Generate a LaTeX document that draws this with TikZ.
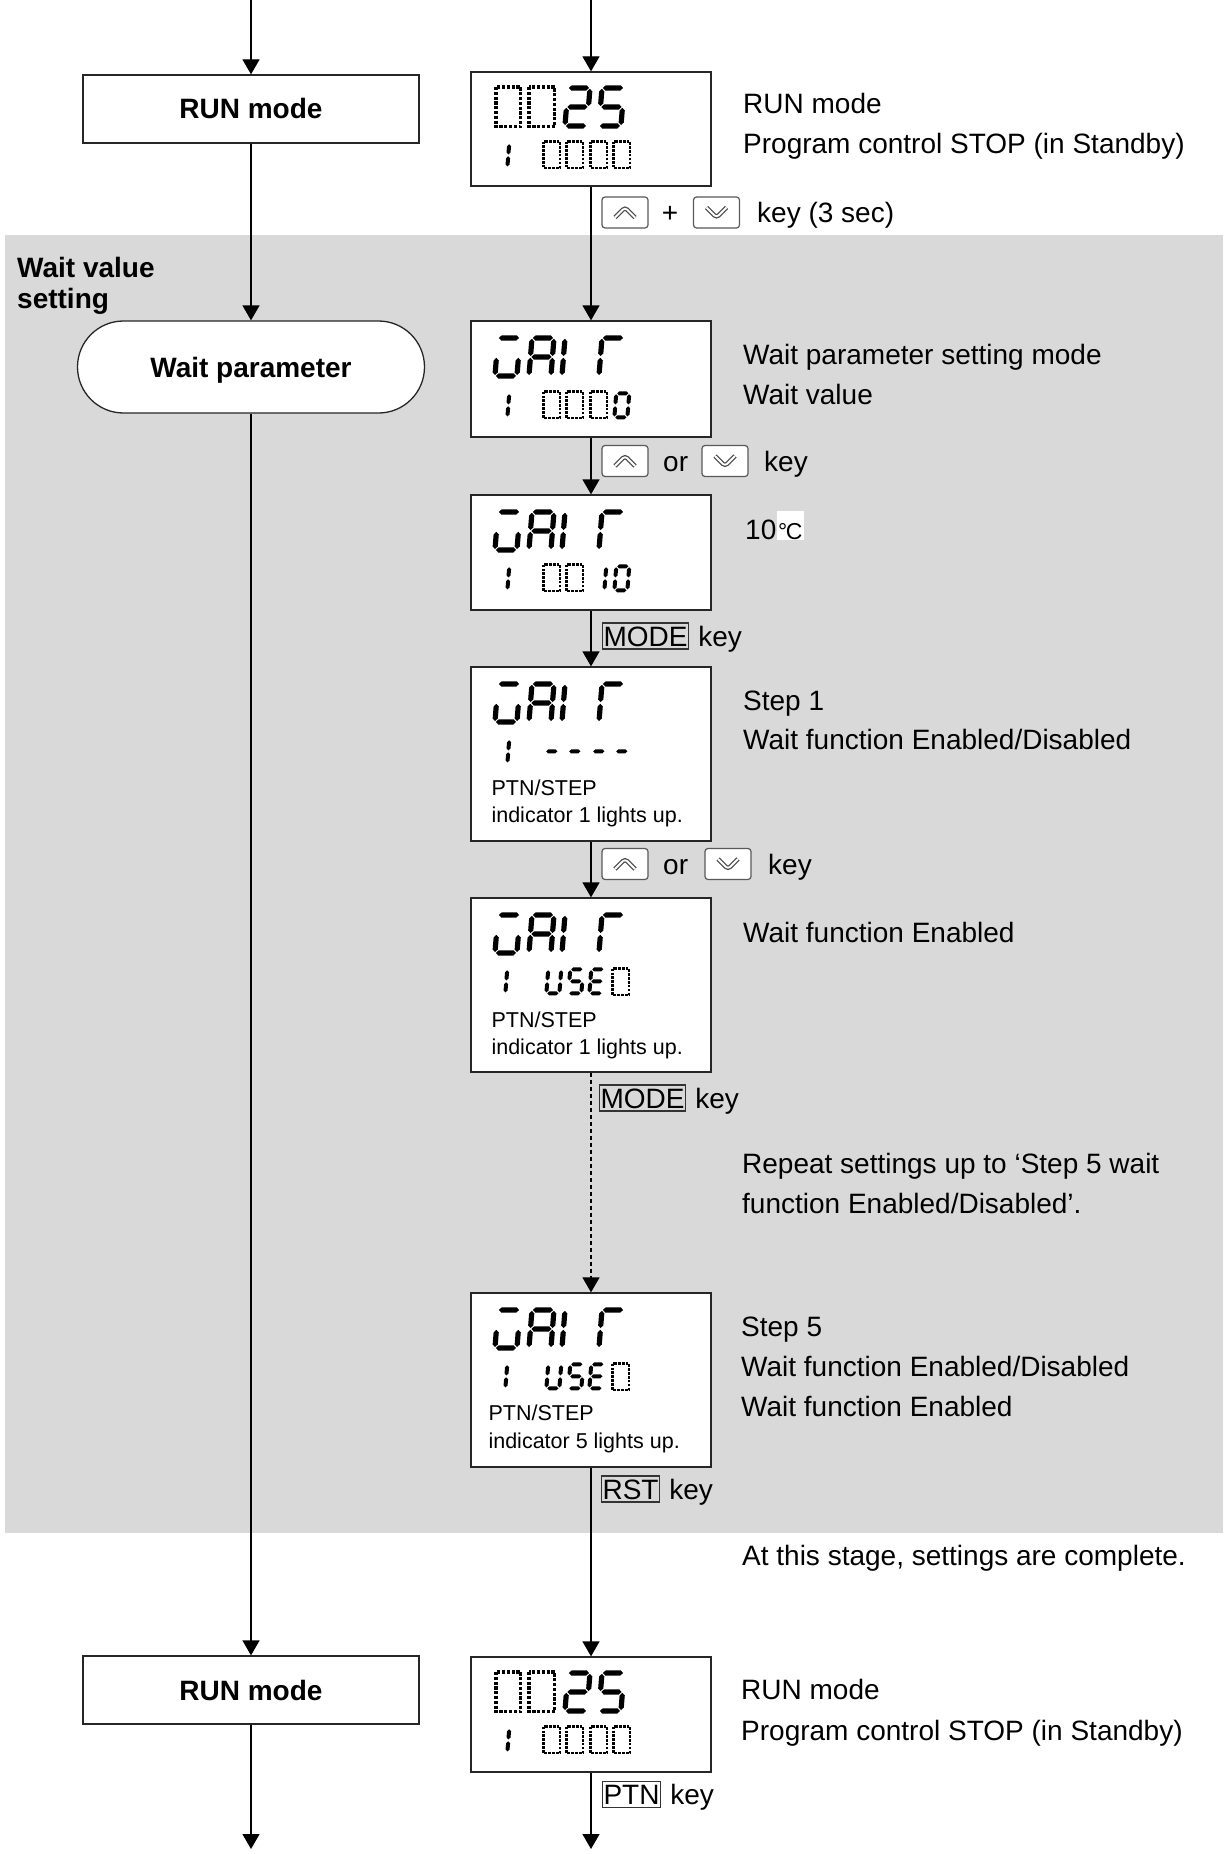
\documentclass[tikz,border=0pt]{standalone}
\usepackage{fontspec}
\setmainfont{Liberation Sans}
\usetikzlibrary{arrows.meta}
\definecolor{bggray}{RGB}{217,217,217}
\newcommand\fnorm{\fontsize{28}{34}\selectfont}
\newcommand\fsmall{\fontsize{21.5}{26}\selectfont}
\newcommand\hsegm[3]{\fill ({#1+\sG},{#3}) -- ({#1+\sG+\sT/2},{#3-\sT/2}) -- ({#2-\sG-\sT/2},{#3-\sT/2}) -- ({#2-\sG},{#3}) -- ({#2-\sG-\sT/2},{#3+\sT/2}) -- ({#1+\sG+\sT/2},{#3+\sT/2}) -- cycle;}
\newcommand\vsegm[3]{\fill ({#1},{#2+\sG}) -- ({#1+\sT/2},{#2+\sG+\sT/2}) -- ({#1+\sT/2},{#3-\sG-\sT/2}) -- ({#1},{#3-\sG}) -- ({#1-\sT/2},{#3-\sG-\sT/2}) -- ({#1-\sT/2},{#2+\sG+\sT/2}) -- cycle;}
\pgfkeys{/sevs/a/.code={\hsegm{0}{\sW}{0}},
 /sevs/g/.code={\hsegm{0}{\sW}{\sH/2}},
 /sevs/d/.code={\hsegm{0}{\sW}{\sH}},
 /sevs/f/.code={\vsegm{0}{0}{\sH/2}},
 /sevs/b/.code={\vsegm{\sW}{0}{\sH/2}},
 /sevs/e/.code={\vsegm{0}{\sH/2}{\sH}},
 /sevs/c/.code={\vsegm{\sW}{\sH/2}{\sH}}}
\newcommand\sevseg[6]{\begin{scope}[shift={({#1+0.08*#4+#5/2},{#2+#5/2})},xslant=0.08]\def\sW{#3}\def\sH{#4}\def\sT{#5}\def\sG{0.9}\pgfkeys{/sevs/.cd,#6}\end{scope}}
\newcommand\sevbig[3]{\sevseg{#1}{#2}{22}{38}{5.2}{#3}}
\newcommand\sevsml[3]{\sevseg{#1}{#2}{13}{24}{4}{#3}}
\newcommand\dotdig[6]{\draw[#6] ({#1+#5/2},{#2+#5/2}) rectangle ({#1+#3-#5/2},{#2+#4-#5/2});}
\newcommand\waitrow{\sevbig{22}{15}{a,c,d,e}\sevbig{56}{15}{a,b,c,e,f,g}\sevbig{89}{15}{e,f}\sevbig{126}{15}{a,e,f}}
\newcommand\runrows{\dotdig{24}{14}{28}{43}{3.2}{dotbig}\dotdig{57}{14}{29}{43}{3.2}{dotbig}\sevbig{92}{14}{a,b,g,e,d}\sevbig{126}{14}{a,f,g,c,d}%
 \sevsml{22}{70}{b,c}\dotdig{72}{69}{19}{29}{2.5}{dotsml}\dotdig{95}{69}{19}{29}{2.5}{dotsml}\dotdig{119}{69}{19}{29}{2.5}{dotsml}\dotdig{142}{69}{19}{29}{2.5}{dotsml}}
\newcommand\usedrow{\sevsml{20}{70}{b,c}\sevsml{74}{70}{b,c,d,e,f}\sevsml{96}{70}{a,f,g,c,d}\sevsml{117}{70}{a,f,g,e,d}\dotdig{141}{70}{19}{29}{2.5}{dotsml}}
\begin{document}
\begin{tikzpicture}[x=1pt,y=-1pt,
 lbl/.style={anchor=west,inner sep=0pt,text height=20pt,text depth=0pt,font=\fnorm},
 slbl/.style={anchor=west,inner sep=0pt,text height=15.5pt,text depth=0pt,font=\fsmall},
 hlbl/.style={anchor=base west,inner sep=0pt,font=\bfseries\fnorm},
 runbox/.style={draw=black!85,line width=1.3pt,fill=white,minimum width=336pt,minimum height=68pt,inner sep=0pt,text height=20pt,text depth=0pt,font=\bfseries\fnorm},
 stad/.style={draw=black!85,line width=1.3pt,fill=white,rounded corners=46pt,minimum width=347pt,minimum height=92pt,inner sep=0pt,text height=20pt,text depth=0pt,font=\bfseries\fnorm},
 disp/.style={draw=black!85,line width=1.3pt,fill=white,minimum width=240pt,inner sep=0pt},
 kbox/.style={draw=black!80,line width=1.1pt,anchor=west,inner xsep=1pt,inner ysep=3pt,text height=20pt,text depth=0pt,font=\fnorm},
 keybox/.style={draw=black!65,line width=1.2pt,fill=white,rounded corners=3pt,minimum width=46pt,minimum height=31pt,inner sep=0pt},
 chevo/.style={line width=4.4pt,draw=black!70,line join=miter},
 chevi/.style={line width=1.8pt,draw=white,line join=miter},
 upkey/.style={keybox,path picture={
   \draw[chevo] ([shift={(-10pt,-5pt)}]path picture bounding box.center) -- ([shift={(0pt,5pt)}]path picture bounding box.center) -- ([shift={(10pt,-5pt)}]path picture bounding box.center);
   \draw[chevi] ([shift={(-10pt,-5pt)}]path picture bounding box.center) -- ([shift={(0pt,5pt)}]path picture bounding box.center) -- ([shift={(10pt,-5pt)}]path picture bounding box.center);}},
 downkey/.style={keybox,path picture={
   \draw[chevo] ([shift={(-10pt,5pt)}]path picture bounding box.center) -- ([shift={(0pt,-5pt)}]path picture bounding box.center) -- ([shift={(10pt,5pt)}]path picture bounding box.center);
   \draw[chevi] ([shift={(-10pt,5pt)}]path picture bounding box.center) -- ([shift={(0pt,-5pt)}]path picture bounding box.center) -- ([shift={(10pt,5pt)}]path picture bounding box.center);}},
 conn/.style={line width=1.3pt,draw=black,-{Triangle[width=17pt,length=15pt]}},
 dotbig/.style={line width=3.2pt,dash pattern=on 3.2pt off 1.6pt},
 dotsml/.style={line width=2.5pt,dash pattern=on 2.5pt off 1.4pt}]
\useasboundingbox (0,0) rectangle (1223,1854);
\fill[white] (0,0) rectangle (1223,1854);
\fill[bggray] (5,235) rectangle (1223,1533);
% left column
\node[runbox] (run1) at (251,109) {RUN mode};
\node[stad] (wp) at (251,367) {Wait parameter};
\node[runbox] (run2) at (251,1690) {RUN mode};
\coordinate (tl) at (251,0);
\coordinate (bl) at (251,1849);
\draw[conn] (tl) -- (run1);
\draw[conn] (run1) -- (wp);
\draw[conn] (wp) -- (run2);
\draw[conn] (run2) -- (bl);
\node[hlbl] (hd1) at (17,277) {Wait value};
\node[hlbl] (hd2) at (17,308) {setting};
% displays
\node[disp,minimum height=114pt] (d1) at (591,129) {};
\node[disp,minimum height=116pt] (d2) at (591,379) {};
\node[disp,minimum height=115pt] (d3) at (591,552.5) {};
\node[disp,minimum height=174pt] (d4) at (591,754) {};
\node[disp,minimum height=174pt] (d5) at (591,985) {};
\node[disp,minimum height=174pt] (d6) at (591,1380) {};
\node[disp,minimum height=115pt] (d7) at (591,1714.5) {};
\coordinate (tr) at (591,0);
\coordinate (br) at (591,1849);
\draw[conn] (tr) -- (d1);
\draw[conn] (d1) -- (d2);
\draw[conn] (d2) -- (d3);
\draw[conn] (d3) -- (d4);
\draw[conn] (d4) -- (d5);
\draw[conn,dash pattern=on 4pt off 3pt] (d5) -- (d6);
\draw[conn] (d6) -- (d7);
\draw[conn] (d7) -- (br);
% display contents
\begin{scope}[shift={(d1.north west)}]\runrows\end{scope}
\begin{scope}[shift={(d7.north west)}]\runrows\end{scope}
\begin{scope}[shift={(d2.north west)}]\waitrow
 \sevsml{22}{71}{b,c}\dotdig{72}{70}{19}{29}{2.5}{dotsml}\dotdig{95}{70}{19}{29}{2.5}{dotsml}\dotdig{119}{70}{19}{29}{2.5}{dotsml}\sevsml{142}{71}{a,b,c,d,e,f}\end{scope}
\begin{scope}[shift={(d3.north west)}]\waitrow
 \sevsml{22}{70}{b,c}\dotdig{72}{69}{19}{29}{2.5}{dotsml}\dotdig{95}{69}{19}{29}{2.5}{dotsml}\sevsml{119}{70}{b,c}\sevsml{142}{70}{a,b,c,d,e,f}\end{scope}
\begin{scope}[shift={(d4.north west)}]\waitrow
 \sevsml{22}{71}{b,c}\sevsml{72}{71}{g}\sevsml{95}{71}{g}\sevsml{119}{71}{g}\sevsml{142}{71}{g}\end{scope}
\begin{scope}[shift={(d5.north west)}]\waitrow\usedrow\end{scope}
\begin{scope}[shift={(d6.north west)}]\waitrow\usedrow\end{scope}
\node[slbl] (p4a) at ([shift={(21pt,-121pt)}]d4.north west) {PTN/STEP};
\node[slbl] (p4b) at ([shift={(21pt,-148pt)}]d4.north west) {indicator 1 lights up.};
\node[slbl] (p5a) at ([shift={(21pt,-122pt)}]d5.north west) {PTN/STEP};
\node[slbl] (p5b) at ([shift={(21pt,-149pt)}]d5.north west) {indicator 1 lights up.};
\node[slbl] (p6a) at ([shift={(18pt,-120pt)}]d6.north west) {PTN/STEP};
\node[slbl] (p6b) at ([shift={(18pt,-148pt)}]d6.north west) {indicator 5 lights up.};
% right texts
\node[lbl] (r1a) at (743,104) {RUN mode};
\node[lbl] (r1b) at (743,144) {Program control STOP (in Standby)};
\node[upkey] (k1a) at (625,212.5) {};
\node[lbl,anchor=center] (pl) at (670,212.5) {+};
\node[downkey] (k1b) at (716.5,212.5) {};
\node[lbl] (k1t) at (757,212.5) {key (3 sec)};
\node[lbl] (r2a) at (743,354) {Wait parameter setting mode};
\node[lbl] (r2b) at (743,394) {Wait value};
\node[lbl] (ten) at (745,529) {10};
\node[fill=white,inner xsep=1pt,inner ysep=0pt,anchor=base west,text height=28pt,text depth=1pt,font=\fontsize{23}{26}\selectfont] (degc) at (777,539) {°\kern-1.5pt C};
\node[upkey] (k2a) at (625,461) {};
\node[lbl] (or2) at (663,461) {or};
\node[downkey] (k2b) at (725,461) {};
\node[lbl] (k2t) at (764,461) {key};
\node[kbox] (m1) at (602,636) {MODE};
\node[lbl] (m1t) at ([xshift=9pt]m1.east) {key};
\node[lbl] (r3a) at (743,700) {Step 1};
\node[lbl] (r3b) at (743,739) {Wait function Enabled/Disabled};
\node[upkey] (k3a) at (625,864) {};
\node[lbl] (or3) at (663,864) {or};
\node[downkey] (k3b) at (728,864) {};
\node[lbl] (k3t) at (768,864) {key};
\node[lbl] (r4a) at (743,932) {Wait function Enabled};
\node[kbox] (m2) at (599,1098) {MODE};
\node[lbl] (m2t) at ([xshift=9pt]m2.east) {key};
\node[lbl] (r5a) at (742,1163) {Repeat settings up to ‘Step 5 wait};
\node[lbl] (r5b) at (742,1203) {function Enabled/Disabled’.};
\node[lbl] (r6a) at (741,1326) {Step 5};
\node[lbl] (r6b) at (741,1366) {Wait function Enabled/Disabled};
\node[lbl] (r6c) at (741,1406) {Wait function Enabled};
\node[kbox] (rst) at (601,1489) {RST};
\node[lbl] (rstt) at ([xshift=9pt]rst.east) {key};
\node[lbl] (r7) at (742,1555) {At this stage, settings are complete.};
\node[lbl] (r8a) at (741,1689) {RUN mode};
\node[lbl] (r8b) at (741,1730) {Program control STOP (in Standby)};
\node[kbox] (ptn) at (602,1794.5) {PTN};
\node[lbl] (ptnt) at ([xshift=9pt]ptn.east) {key};
\end{tikzpicture}
\end{document}
